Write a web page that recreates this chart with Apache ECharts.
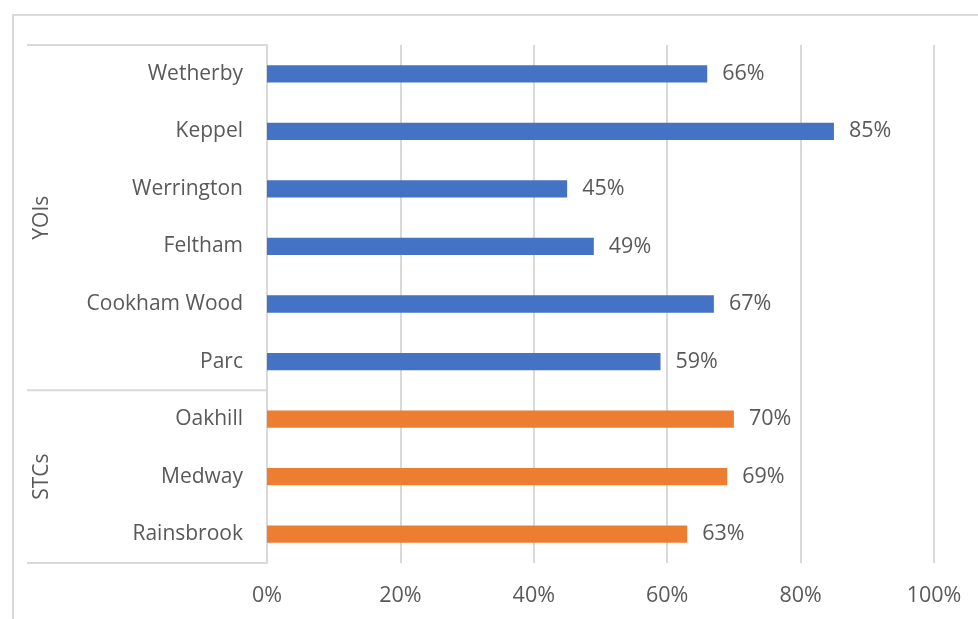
<!DOCTYPE html>
<html><head><meta charset="utf-8">
<script src="https://cdn.jsdelivr.net/npm/echarts@6/dist/echarts.min.js"></script>
<style>html,body{margin:0;padding:0;background:#fff}#c{width:978px;height:619px}</style>
</head><body><div id="c"></div>
<script>
const categories = ['Wetherby','Keppel','Werrington','Feltham','Cookham Wood','Parc','Oakhill','Medway','Rainsbrook'];
const values = [66,85,45,49,67,59,70,69,63];
const groupOf = ['YOIs','YOIs','YOIs','YOIs','YOIs','YOIs','STCs','STCs','STCs'];
const groupNames = ['YOIs','STCs'];
const groupColors = {YOIs:'#4472C4', STCs:'#ED7D31'};
const xTicks = [0,20,40,60,80,100];

const FONT = 'Open Sans';
const TXT = '#595959';
const LINE = '#d9d9d9';
const chart = echarts.init(document.getElementById('c'), null, {renderer:'canvas'});
const option = {
  animation:false,
  grid:{left:267,right:44,top:45,bottom:56,containLabel:false},
  xAxis:{type:'value',min:xTicks[0],max:xTicks[xTicks.length-1],interval:xTicks[1]-xTicks[0],
    axisLine:{show:false},axisTick:{show:false},
    splitLine:{lineStyle:{color:LINE,width:2}},
    axisLabel:{formatter:'{value}%',color:TXT,fontFamily:FONT,fontSize:21.5,margin:22}},
  yAxis:{type:'category',inverse:true,data:categories,
    axisLine:{lineStyle:{color:LINE,width:2}},axisTick:{show:false},
    axisLabel:{color:TXT,fontFamily:FONT,fontSize:21,margin:24}},
  series:[{type:'bar',barWidth:'30%',
    data:values.map((v,i)=>({value:v,itemStyle:{color:groupColors[groupOf[i]]}})),
    label:{show:true,position:'right',distance:15,formatter:'{c}%',color:TXT,fontFamily:FONT,fontSize:21.5}}]
};
chart.setOption(option);

function drawGroups(){
  const g=[];
  g.push({type:'rect',shape:{x:13,y:15,width:1100,height:800},style:{fill:'none',stroke:LINE,lineWidth:2},silent:true});
  const bounds=[];
  let start=0;
  for(let i=1;i<=groupOf.length;i++){
    if(i===groupOf.length||groupOf[i]!==groupOf[start]){bounds.push([start,i-1]);start=i;}
  }
  const xr = chart.convertToPixel({xAxisIndex:0},0);
  const step = Math.abs(chart.convertToPixel({yAxisIndex:0},1)-chart.convertToPixel({yAxisIndex:0},0));
  bounds.forEach(([s,e],k)=>{
    const t=chart.convertToPixel({yAxisIndex:0},s)-step/2, b=chart.convertToPixel({yAxisIndex:0},e)+step/2;
    if(k===0) g.push({type:'line',shape:{x1:27,y1:t,x2:xr,y2:t},style:{stroke:LINE,lineWidth:2},silent:true});
    g.push({type:'line',shape:{x1:27,y1:b,x2:xr,y2:b},style:{stroke:LINE,lineWidth:2},silent:true});
    g.push({type:'text',x:42,y:(t+b)/2,rotation:Math.PI/2,style:{text:groupOf[s],fill:TXT,font:'21px "'+FONT+'"',align:'center',verticalAlign:'middle'},silent:true});
  });
  chart.setOption({graphic:g});
}
drawGroups();
</script></body></html>
